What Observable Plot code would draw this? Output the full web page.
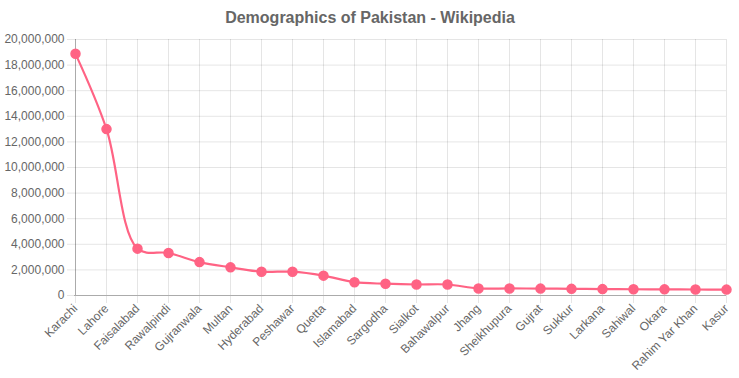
<!DOCTYPE html>
<html>
<head>
<meta charset="utf-8">
<script src="https://cdn.jsdelivr.net/npm/d3@7"></script>
<script src="https://cdn.jsdelivr.net/npm/@observablehq/plot@0.6"></script>
<style>
  body { margin: 0; background: #fff; }
  svg { font-family: "Liberation Sans", Arial, sans-serif; }
</style>
</head>
<body>
<div id="chart"></div>
<script>
const title = "Demographics of Pakistan - Wikipedia";
const cities = ["Karachi", "Lahore", "Faisalabad", "Rawalpindi", "Gujranwala", "Multan", "Hyderabad", "Peshawar", "Quetta", "Islamabad", "Sargodha", "Sialkot", "Bahawalpur", "Jhang", "Sheikhupura", "Gujrat", "Sukkur", "Larkana", "Sahiwal", "Okara", "Rahim Yar Khan", "Kasur"];
const population = [18880000, 13000000, 3660000, 3320000, 2610000, 2200000, 1860000, 1860000, 1550000, 1040000, 920000, 860000, 860000, 550000, 550000, 540000, 520000, 500000, 490000, 480000, 470000, 460000];
const yTicks = [0, 2000000, 4000000, 6000000, 8000000, 10000000, 12000000, 14000000, 16000000, 18000000, 20000000];

const data = cities.map((c, i) => ({city: c, value: population[i]}));
const fmt = d3.format(",");

const W = 739, ML = 74, MR = 13;
const plot = Plot.plot({
  width: W,
  height: 378,
  marginLeft: ML,
  marginRight: MR,
  marginTop: 39,
  marginBottom: 83,
  style: {fontFamily: "Liberation Sans, Arial, sans-serif", fontSize: "12px", color: "#666"},
  x: {type: "point", domain: cities, padding: 0},
  y: {domain: [0, 20000000]},
  marks: [
    Plot.gridY(yTicks, {stroke: "#000", strokeOpacity: 0.1}),
    Plot.gridX(cities, {stroke: "#000", strokeOpacity: 0.1}),
    Plot.axisY(yTicks, {tickSize: 7, tickPadding: 3, stroke: "#e6e6e6", strokeOpacity: 1, color: "#666", tickFormat: fmt, label: null, fontSize: 12}),
    Plot.axisX(cities, {tickSize: 8, tickPadding: 3, tickRotate: -45, stroke: "#e6e6e6", strokeOpacity: 1, color: "#666", label: null, fontSize: 12}),
    Plot.ruleY([0], {stroke: "#000", strokeOpacity: 0.25}),
    Plot.ruleX([cities[0]], {stroke: "#000", strokeOpacity: 0.25}),
    Plot.line(data, {x: "city", y: "value", stroke: "#ff6384", strokeWidth: 2.2, curve: "catmull-rom"}),
    Plot.dot(data, {x: "city", y: "value", r: 4.5, fill: "#ff6384", stroke: "#ff6384"}),
    Plot.text([title], {frameAnchor: "top", dy: -28, dx: W / 2 - (ML + (W - ML - MR) / 2), text: d => d, fontSize: 16, fontWeight: "bold", fill: "#666"})
  ]
});
document.getElementById("chart").appendChild(plot);
</script>
</body>
</html>
